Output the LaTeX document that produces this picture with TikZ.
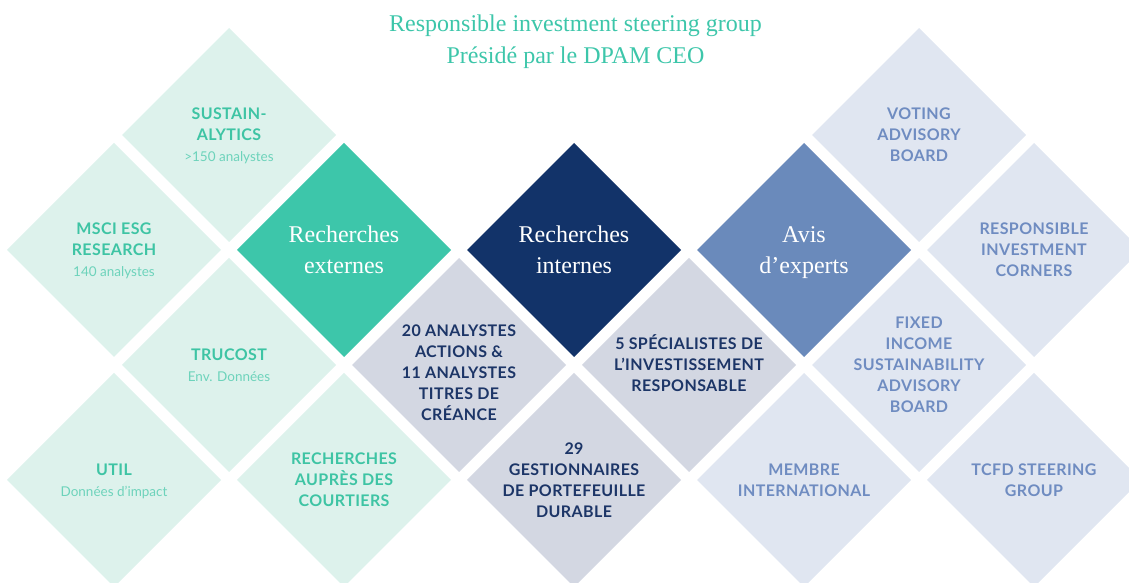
\documentclass[tikz,border=0pt]{standalone}
\usepackage{fontspec}
\setmainfont{Liberation Serif}
\newfontfamily\capsfont{Lato}[LetterSpace=2.5]
\newfontfamily\notefont{Lato}
\usetikzlibrary{shapes.geometric}

\definecolor{mintpale}{HTML}{DDF2EC}
\definecolor{mint}{HTML}{3DC6AA}
\definecolor{minttext}{HTML}{3EC4A4}
\definecolor{mintsoft}{HTML}{6DD3BB}
\definecolor{navy}{HTML}{123369}
\definecolor{navytext}{HTML}{1C3567}
\definecolor{slate}{HTML}{6A8ABB}
\definecolor{slatetext}{HTML}{6F8CC1}
\definecolor{greypale}{HTML}{D3D7E2}
\definecolor{bluepale}{HTML}{E0E6F1}

\newcommand{\subline}[1]{{\notefont\mdseries\fontsize{13.5}{21}\selectfont\color{mintsoft}#1}}

\begin{document}
\begin{tikzpicture}[x=1pt, y=1pt, node distance=162.63pt,
  tile/.style={shape=diamond, minimum width=214pt, minimum height=214pt, inner sep=0pt, outer sep=0pt},
  head/.style={font=\fontsize{24}{31.7}\selectfont, text=white, align=center, inner sep=0pt, text height=47.6pt, text depth=0pt},
  caps/.style={font=\capsfont\bfseries\fontsize{16}{21}\selectfont, align=center, inner sep=0pt, text height=#1, text depth=0pt}]
\useasboundingbox (0,0) rectangle (1129,583);
\clip (0,0) rectangle (1129,583);

\node [font=\fontsize{24}{32}\selectfont, text=mint, align=center, inner sep=0pt, text height=47.9pt, text depth=0pt] (T) at (575.5,543.5) {Responsible investment steering group\\Présidé par le DPAM CEO};

\node [tile, fill=navy] (I0) at (574,333) {};
\node [tile, fill=mint, left of=I0, node distance=230pt] (E0) {};
\node [tile, fill=slate, right of=I0, node distance=230pt] (A0) {};

\node [tile, fill=mintpale, above left of=E0] (E1) {};
\node [tile, fill=mintpale, left of=E0, node distance=230pt] (E2) {};
\node [tile, fill=mintpale, below left of=E0] (E3) {};
\node [tile, fill=mintpale, below left of=E3] (E4) {};
\node [tile, fill=mintpale, below right of=E3] (E5) {};

\node [tile, fill=greypale, below left of=I0] (I1) {};
\node [tile, fill=greypale, below right of=I0] (I2) {};
\node [tile, fill=greypale, below right of=I1] (I3) {};

\node [tile, fill=bluepale, above right of=A0] (A1) {};
\node [tile, fill=bluepale, below right of=A1] (A2) {};
\node [tile, fill=bluepale, below right of=A0] (A3) {};
\node [tile, fill=bluepale, below left of=A3] (A4) {};
\node [tile, fill=bluepale, below right of=A3] (A5) {};

\node [head] (E0t) at (E0) {Recherches\\externes};
\node [head] (I0t) at (I0) {Recherches\\internes};
\node [head] (A0t) at (A0) {Avis\\d’experts};

\node [caps=53.6pt, text=minttext] (E1t) at (E1) {SUSTAIN-\\ALYTICS\\\subline{>150 analystes}};
\node [caps=53.6pt, text=minttext] (E2t) at (E2) {MSCI ESG\\RESEARCH\\\subline{140 analystes}};
\node [caps=32.6pt, text=minttext] (E3t) at (E3) {TRUCOST\\\subline{Env. Données}};
\node [caps=32.6pt, text=minttext] (E4t) at (E4) {UTIL\\\subline{Données d’impact}};
\node [caps=53.6pt, text=minttext] (E5t) at (E5) {RECHERCHES\\AUPRÈS DES\\COURTIERS};

\node [caps=95.6pt, text=navytext] (I1t) at ([yshift=-8pt]I1.center) {20 ANALYSTES\\ACTIONS \&\\11 ANALYSTES\\TITRES DE\\CRÉANCE};
\node [caps=53.6pt, text=navytext] (I2t) at (I2) {5 SPÉCIALISTES DE\\L’INVESTISSEMENT\\RESPONSABLE};
\node [caps=74.6pt, text=navytext] (I3t) at (I3) {29\\GESTIONNAIRES\\DE PORTEFEUILLE\\DURABLE};

\node [caps=53.6pt, text=slatetext] (A1t) at (A1) {VOTING\\ADVISORY\\BOARD};
\node [caps=53.6pt, text=slatetext] (A2t) at (A2) {RESPONSIBLE\\INVESTMENT\\CORNERS};
\node [caps=95.6pt, text=slatetext] (A3t) at (A3) {FIXED\\INCOME\\SUSTAINABILITY\\ADVISORY\\BOARD};
\node [caps=32.6pt, text=slatetext] (A4t) at (A4) {MEMBRE\\INTERNATIONAL};
\node [caps=32.6pt, text=slatetext] (A5t) at (A5) {TCFD STEERING\\GROUP};
\end{tikzpicture}
\end{document}
